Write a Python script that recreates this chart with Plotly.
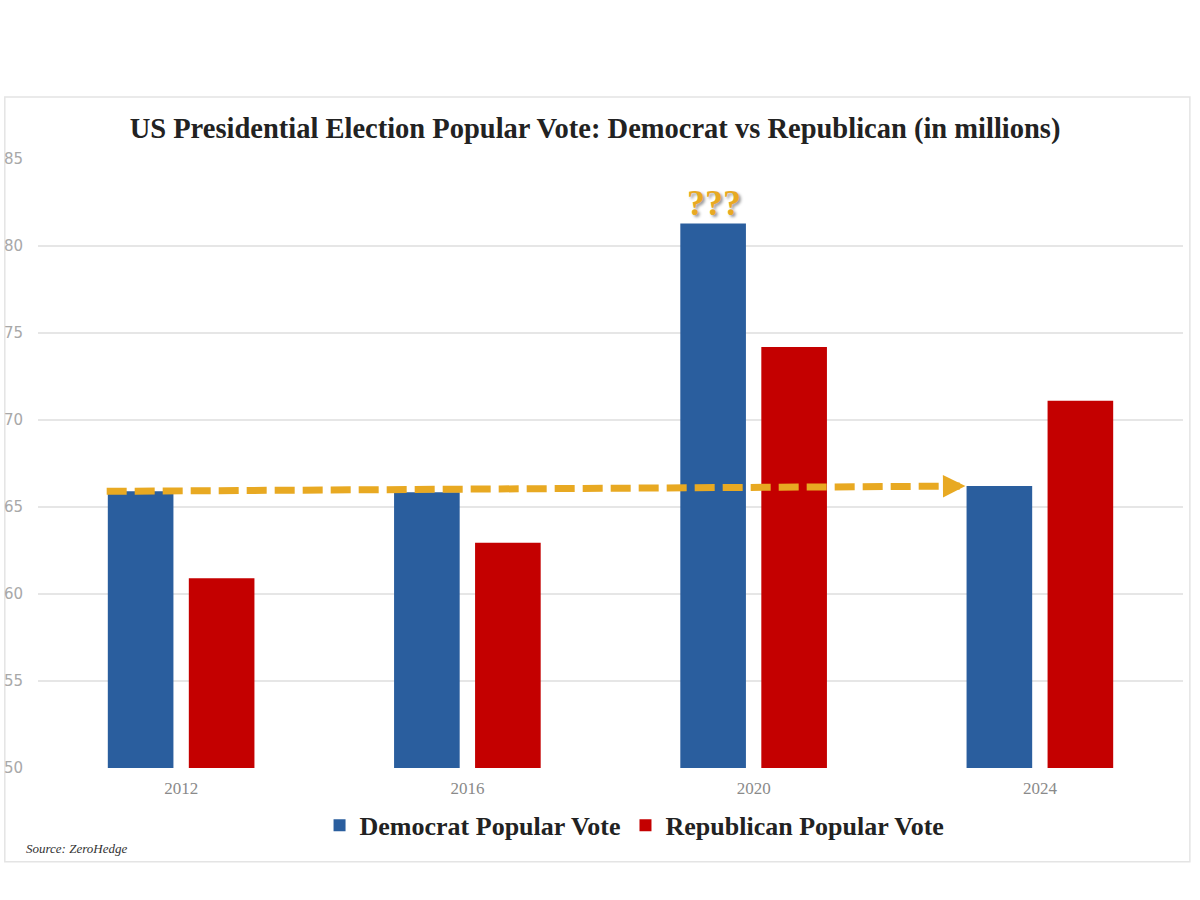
import plotly.graph_objects as go

years = ["2012", "2016", "2020", "2024"]
dem_votes = [65.9, 65.85, 81.3, 66.2]
rep_votes = [60.9, 62.95, 74.2, 71.1]
y_ticks = [50, 55, 60, 65, 70, 75, 80, 85]

BLUE = "#2a5e9e"
RED = "#c40000"
GOLD = "#e8a922"
SERIF = "Liberation Serif, Times New Roman, serif"

x_pos = list(range(len(years)))

fig = go.Figure()
fig.add_trace(go.Bar(x=x_pos, y=dem_votes, name="Democrat Popular Vote",
                     marker=dict(color=BLUE, line=dict(width=0))))
fig.add_trace(go.Bar(x=x_pos, y=rep_votes, name="Republican Popular Vote",
                     marker=dict(color=RED, line=dict(width=0))))

# dashed arrow from the 2012 Democrat bar to the 2024 Democrat bar
x_start = x_pos[0] - 0.26
x_end = x_pos[3] - 0.26
fig.add_shape(type="line", xref="x", yref="y",
              x0=x_start, y0=dem_votes[0], x1=x_end - 0.02, y1=dem_votes[3],
              line=dict(color=GOLD, width=7, dash="20px,8px"))
fig.add_annotation(x=x_end, y=dem_votes[3], ax=x_end - 0.05, ay=dem_votes[3] - 0.004,
                   xref="x", yref="y", axref="x", ayref="y",
                   showarrow=True, arrowhead=2, arrowsize=0.75, arrowwidth=6,
                   arrowcolor=GOLD, text="")

# question marks above the 2020 Democrat bar
fig.add_annotation(x=x_pos[2] - 0.14, y=dem_votes[2], xref="x", yref="y",
                   text="<b>???</b>", showarrow=False, yanchor="bottom", yshift=-2,
                   font=dict(family=SERIF, size=36, color=GOLD, shadow="2px 2px 3px #999"))

# outer frame
fig.add_shape(type="rect", xref="paper", yref="paper",
              x0=-0.029, x1=1.006, y0=-0.154, y1=1.102,
              line=dict(color="#e4e4e4", width=1.5), fillcolor="rgba(0,0,0,0)", layer="below")

fig.add_annotation(xref="paper", yref="paper", x=-0.012, y=-0.132,
                   xanchor="left", yanchor="middle", showarrow=False,
                   text="<i>Source: ZeroHedge</i>",
                   font=dict(family=SERIF, size=13, color="#333"))

fig.update_layout(
    width=1200, height=900,
    margin=dict(l=38, r=17, t=159, b=132, autoexpand=False),
    paper_bgcolor="white", plot_bgcolor="white",
    barmode="group", bargap=0.434, bargroupgap=0.19,
    title=dict(text="<b>US Presidential Election Popular Vote: Democrat vs Republican (in millions)</b>",
               x=0.4865, xref="paper", xanchor="center", y=1 - 128 / 900, yanchor="middle",
               font=dict(family=SERIF, size=28.5, color="#222")),
    legend=dict(orientation="h", x=0.521, xanchor="center", xref="paper",
                y=-0.094, yanchor="middle",
                font=dict(family=SERIF, size=26, color="#222", weight="bold"),
                itemsizing="constant", traceorder="normal", itemwidth=30),
    showlegend=True,
)
fig.update_xaxes(tickvals=x_pos, ticktext=years, range=[-0.5, 3.5], automargin=False,
                 showgrid=False, zeroline=False, showline=False, ticks="",
                 tickfont=dict(family=SERIF, size=17, color="#8a8a8a"), ticklabelstandoff=8)
fig.update_yaxes(range=[50, 85], tickvals=y_ticks, showgrid=True, gridcolor="#e6e6e6",
                 gridwidth=1.5, zeroline=False, showline=False, ticks="", automargin=False,
                 tickfont=dict(family="DejaVu Sans, sans-serif", size=15, color="#a8a8a8"),
                 ticklabelstandoff=14)

fig.write_html("out.html", config={"displayModeBar": False},
               post_script="document.body.style.margin='0';document.body.style.overflow='hidden';")
